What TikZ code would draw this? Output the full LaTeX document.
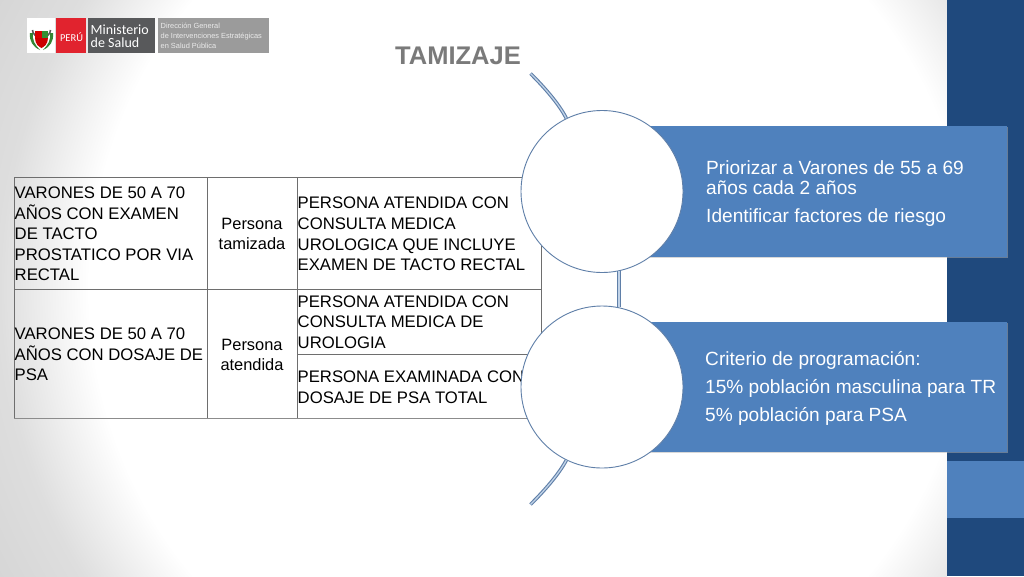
\documentclass[tikz,border=0pt]{standalone}
\usepackage{fontspec}
\setmainfont{Liberation Sans}
\newfontfamily\logofont{Carlito}
\definecolor{bluebox}{HTML}{4F81BD}
\definecolor{bluedark}{HTML}{1F497D}
\definecolor{tablegray}{HTML}{6E6E6E}
\definecolor{logored}{HTML}{E1232E}
\definecolor{logodark}{HTML}{58595B}
\definecolor{logogray}{HTML}{9B9B9B}
\definecolor{linkblue}{HTML}{5F7FA8}
\pgfdeclareradialshading{bgshade}{\pgfpoint{0bp}{0bp}}{color(0bp)=(white); color(16.7bp)=(white); color(20.1bp)=(black!13); color(22.8bp)=(black!16); color(25bp)=(black!20); color(50bp)=(black!20)}
\tikzset{
  tabletext/.style={inner sep=0pt,font=\fontsize{16.7}{20.6}\selectfont,text=black,align=left,anchor=west},
  centertext/.style={inner sep=0pt,font=\fontsize{16.4}{20.6}\selectfont,text=black,align=center},
  panel/.style={fill=bluebox,draw=none},
  paneltext/.style={inner sep=0pt,anchor=west,align=left,text=white,font=\fontsize{19.1}{20}\selectfont},
  bigcircle/.style={circle,draw=linkblue,fill=white,line width=0.9pt,minimum size=162pt,inner sep=0pt},
  link/.style={draw=linkblue,line width=1.1pt,double=white!65!bluebox,double distance=1.3pt},
  tableline/.style={draw=tablegray,line width=0.8pt}
}
\begin{document}
\begin{tikzpicture}[x=1pt,y=-1pt]
\useasboundingbox (0,0) rectangle (1024,576);
% background
\begin{scope}
\clip (0,0) rectangle (947,576);
\fill[white] (0,0) rectangle (947,576);
\begin{scope}[shift={(530,288)},yscale=1.01]
\shade[shading=bgshade] (-660,-660) rectangle (660,660);
\end{scope}
\end{scope}
% right band
\fill[bluedark] (947,0) rectangle (1024,576);
\fill[bluebox] (947,461) rectangle (1024,518);
% logo
\fill[white] (27,18) rectangle (55,53);
\draw[black!65,line width=1.6pt] (32.5,30) arc (180:0:9 and 7.5);
\fill[red!85!black] (35,31) rectangle (41.5,38);
\fill[green!45!black!80!white] (41.5,31) rectangle (48,38);
\fill[red!80!black] (35,38) -- (48,38) .. controls (48,44) and (44,47) .. (41.5,48) .. controls (39,47) and (35,44) .. (35,38) -- cycle;
\fill[green!40!black!80!white] (30,33) .. controls (29,41) and (33,47) .. (40,50) .. controls (35,45) and (32,40) .. (33,33) -- cycle;
\fill[green!40!black!80!white] (53,33) .. controls (54,41) and (50,47) .. (43,50) .. controls (48,45) and (51,40) .. (50,33) -- cycle;
\fill[logored] (56,18) rectangle (86,53);
\fill[logodark] (88,18) rectangle (155,53);
\fill[logogray] (158,18) rectangle (269,53);
\node[inner sep=0pt,text=white,font=\logofont\fontsize{10.5}{12}\selectfont] (peru) at (71.5,37) {PERÚ};
\node[inner sep=0pt,anchor=west,align=left,text=white,font=\logofont\fontsize{14}{13.5}\selectfont] (minsa) at (90.5,36) {Ministerio\\de Salud};
\node[inner sep=0pt,anchor=west,align=left,text=black!8,font=\fontsize{7.4}{10.3}\selectfont] (dgiesp) at (160.5,36) {Dirección General\\de Intervenciones Estratégicas\\en Salud Pública};
% title
\node[inner sep=0pt,text=black!52,font=\bfseries\fontsize{25.5}{28}\selectfont] (title) at (458,56) {TAMIZAJE};
% table
\draw[tableline] (14,177) rectangle (541,418);
\draw[tableline] (207,177) -- (207,418);
\draw[tableline] (297,177) -- (297,418);
\draw[tableline] (14,289) -- (541,289);
\draw[tableline] (297,354) -- (541,354);
\draw[draw=black!45,line width=1pt] (14,418) -- (541,418);
\node[tabletext] (a1) at (14.5,234) {VARONES DE 50 A 70\\AÑOS CON EXAMEN\\DE TACTO\\PROSTATICO POR VIA\\RECTAL};
\node[centertext] (b1) at (252,234) {Persona\\tamizada};
\node[tabletext] (c1t) at (297.5,234) {PERSONA ATENDIDA CON\\CONSULTA MEDICA\\UROLOGICA QUE INCLUYE\\EXAMEN DE TACTO RECTAL};
\node[tabletext] (a2) at (14.5,354.5) {VARONES DE 50 A 70\\AÑOS CON DOSAJE DE\\PSA};
\node[centertext] (b2) at (252,355) {Persona\\atendida};
\node[tabletext] (c2t) at (297.5,322) {PERSONA ATENDIDA CON\\CONSULTA MEDICA DE\\UROLOGIA};
\node[tabletext] (c3t) at (297.5,387) {PERSONA EXAMINADA CON\\DOSAJE DE PSA TOTAL};
% panels
\fill[black!30,opacity=.5] (642,127) rectangle (1008,257.5);
\fill[black!30,opacity=.5] (642,323) rectangle (1007.5,452.5);
\fill[panel] (640,126) rectangle (1007,256.5);
\fill[panel] (640,322) rectangle (1006.5,451.5);
\node[paneltext] (p1) at (706,194) {Priorizar a Varones de 55 a 69\\años cada 2 años\\[8pt]Identificar factores de riesgo};
\node[paneltext] (p2) at (705,388) {Criterio de programación:\\[8pt]15\% población masculina para TR\\[8pt]5\% población para PSA};
% circles and connectors
\node[bigcircle] (k1) at (602,191.5) {};
\node[bigcircle] (k2) at (602,387) {};
\coordinate (top) at (530.5,73.5);
\coordinate (bot) at (530.5,504.5);
\draw[link] (top) .. controls (545,88) and (559,104) .. (k1.116);
\draw[link] (k1.-78) -- (k2.78);
\draw[link] (bot) .. controls (545,490) and (559,474) .. (k2.-116);
\end{tikzpicture}
\end{document}
